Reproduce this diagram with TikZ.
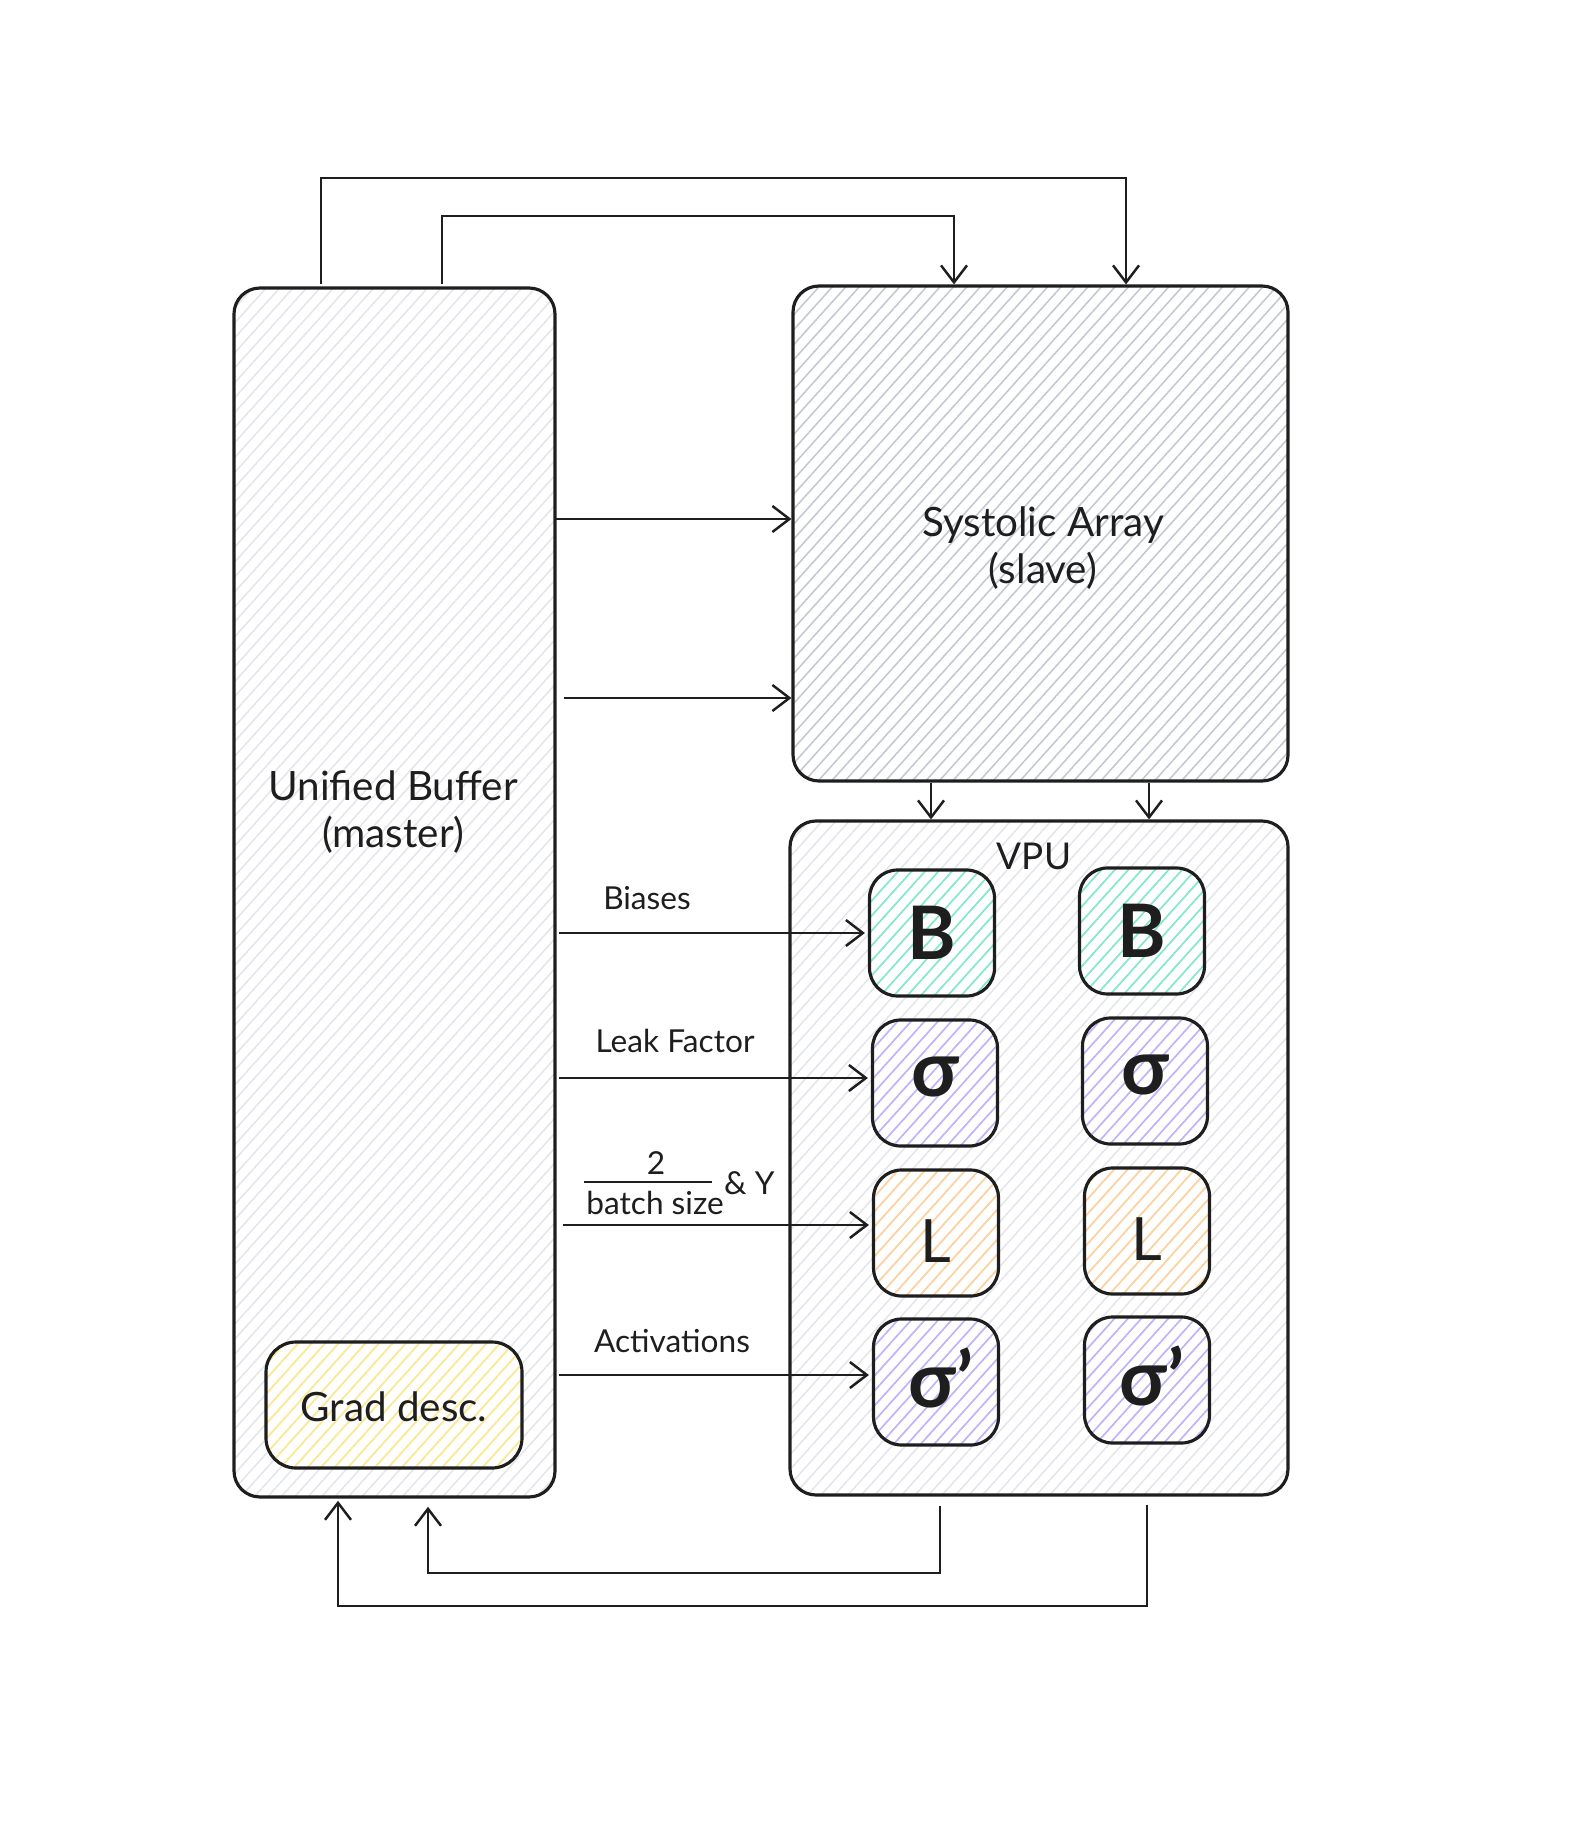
\documentclass[tikz,border=0pt]{standalone}
\usepackage{fontspec}
\setmainfont{Lato}
\usetikzlibrary{arrows.meta,patterns.meta}
\definecolor{ink}{HTML}{1E1E1E}
\definecolor{hlight}{HTML}{E3E6EA}
\definecolor{hdark}{HTML}{C3C9D1}
\definecolor{hmint}{HTML}{7EEBCB}
\definecolor{hlav}{HTML}{C4B1FC}
\definecolor{horange}{HTML}{FFD19C}
\definecolor{hyellow}{HTML}{FFE98A}
\begin{document}
\begin{tikzpicture}[x=0.1mm,y=-0.1mm,
  hbox/.style={draw=ink, line width=0.9pt, rounded corners=2.6mm, inner sep=0pt,
    pattern={Lines[angle=48,distance=1.0mm,line width=0.45pt]}, pattern color=#1},
  cell/.style={hbox=#1, minimum width=12.5mm, minimum height=12.6mm, rounded corners=2.8mm},
  arr/.style={draw=ink, line width=0.7pt, -{Straight Barb[length=1.7mm,width=2.6mm,line width=0.7pt]}},
  lbl/.style={text=ink, font=\fontsize{9}{11}\selectfont, inner sep=1pt},
  big/.style={text=ink, font=\fontsize{11.5}{13.5}\selectfont, align=center},
  glyph/.style={text=ink, font=\fontsize{22}{24}\selectfont\bfseries}
]
\useasboundingbox (0,0) rectangle (1575,1824);

% main blocks
\node[hbox=hlight, minimum width=32.1mm, minimum height=120.9mm] (UB) at (394.5,892.5) {};
\node[hbox=hdark, minimum width=49.5mm, minimum height=49.5mm] (SA) at (1040.5,533.5) {};
\node[hbox=hlight, minimum width=49.8mm, minimum height=67.4mm] (VPU) at (1039,1158) {};
\node[hbox=hyellow, minimum width=25.6mm, minimum height=12.6mm, rounded corners=3mm] (GD) at (394,1405) {};

% labels of blocks
\node[big] (UBl) at (393,812) {Unified Buffer\\(master)};
\node[big] (SAl) at (1043,548) {Systolic Array\\(slave)};
\node[text=ink, font=\fontsize{10.5}{12}\selectfont] (VPUl) at (1034,856) {VPU};
\node[big] (GDl) at (394,1407) {Grad desc.};

% VPU cells
\node[cell=hmint]   (B1) at (932,933)  {};
\node[cell=hmint]   (B2) at (1142,931) {};
\node[cell=hlav]    (S1) at (935,1083) {};
\node[cell=hlav]    (S2) at (1145,1081) {};
\node[cell=horange] (L1) at (936,1233) {};
\node[cell=horange] (L2) at (1147,1231) {};
\node[cell=hlav]    (D1) at (936,1382) {};
\node[cell=hlav]    (D2) at (1147,1380) {};

\node[glyph, font=\fontsize{21}{24}\selectfont\bfseries] at (B1) {B};
\node[glyph, font=\fontsize{21}{24}\selectfont\bfseries] at (B2) {B};
\node[glyph] at ([yshift=0.6mm]S1) {σ};
\node[glyph] at ([yshift=0.6mm]S2) {σ};
\node[glyph, font=\fontsize{17}{20}\selectfont] at ([yshift=-0.8mm]L1) {L};
\node[glyph, font=\fontsize{17}{20}\selectfont] at ([yshift=-0.8mm]L2) {L};
\node[glyph] at ([xshift=0.5mm,yshift=0.4mm]D1) {σ’};
\node[glyph] at ([xshift=0.5mm,yshift=0.4mm]D2) {σ’};

% UB -> SA
\coordinate (sa1) at (790,519);
\coordinate (sa2) at (790,698);
\draw[arr] (UB.east |- sa1) -- (SA.west |- sa1);
\draw[arr] ([xshift=0.8mm]UB.east |- sa2) -- (SA.west |- sa2);

% UB -> VPU cells
\draw[arr] ([xshift=0.3mm]UB.east |- B1) -- ([xshift=-0.3mm]B1.west);
\draw[arr] ([xshift=0.3mm,yshift=0.5mm]UB.east |- S1) -- ([xshift=-0.3mm,yshift=0.5mm]S1.west);
\draw[arr] ([xshift=0.7mm,yshift=0.8mm]UB.east |- L1) -- ([xshift=-0.3mm,yshift=0.8mm]L1.west);
\draw[arr] ([xshift=0.3mm,yshift=0.7mm]UB.east |- D1) -- ([xshift=-0.3mm,yshift=0.7mm]D1.west);

% arrow labels
\node[lbl] (lb1) at (647,898) {Biases};
\node[lbl] (lb2) at (675,1041) {Leak Factor};
\node[lbl] (lb3n) at (656,1163) {2};
\node[lbl] (lb3d) at (655,1203) {batch size};
\draw[ink, line width=0.6pt] (584,1182) -- (712,1182);
\node[lbl, anchor=west] (lb3y) at (720,1183) {\& Y};
\node[lbl] (lb4) at (672,1341) {Activations};

% SA -> VPU
\coordinate (m1) at (931,800);
\coordinate (m2) at (1149,800);
\draw[arr] (SA.south -| m1) -- (VPU.north -| m1);
\draw[arr] (SA.south -| m2) -- (VPU.north -| m2);

% top loops UB -> SA
\coordinate (t1) at (321,178);
\coordinate (t2) at (1126,178);
\coordinate (t3) at (442,216);
\coordinate (t4) at (954,216);
\draw[arr] ([yshift=0.3mm]UB.north -| t1) -- (t1) -- (t2) -- (SA.north -| t2);
\draw[arr] ([yshift=0.3mm]UB.north -| t3) -- (t3) -- (t4) -- (SA.north -| t4);

% bottom loops VPU -> UB
\coordinate (b1) at (940,1573);
\coordinate (b2) at (428,1573);
\coordinate (b3) at (1147,1606);
\coordinate (b4) at (338,1606);
\draw[arr] ([yshift=-0.9mm]VPU.south -| b1) -- (b1) -- (b2) -- ([yshift=-0.9mm]UB.south -| b2);
\draw[arr] ([yshift=-0.8mm]VPU.south -| b3) -- (b3) -- (b4) -- ([yshift=-0.3mm]UB.south -| b4);
\end{tikzpicture}
\end{document}
